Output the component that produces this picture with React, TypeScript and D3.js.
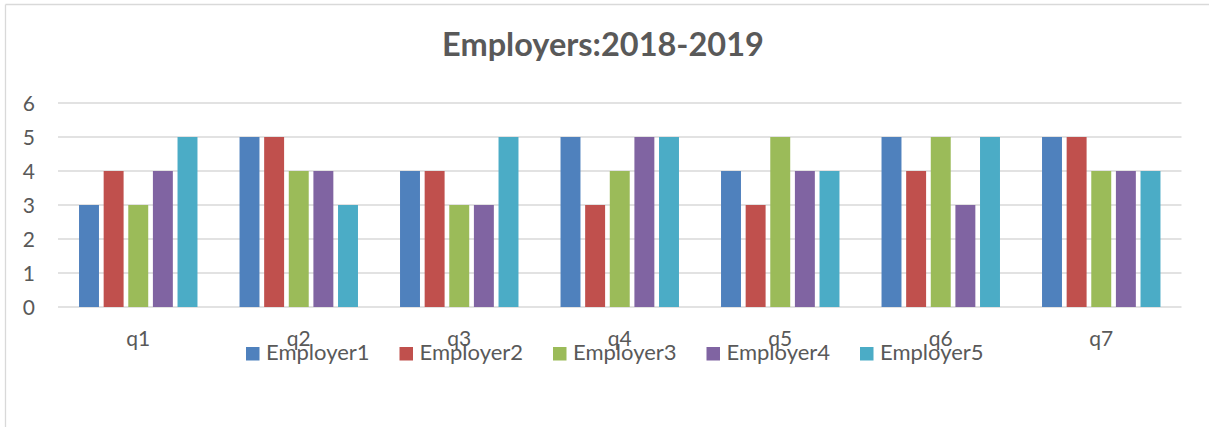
import React, { useEffect, useRef } from "react";
import * as d3 from "d3";

const categories = ["q1", "q2", "q3", "q4", "q5", "q6", "q7"];
const seriesNames = ["Employer1", "Employer2", "Employer3", "Employer4", "Employer5"];
const employer1 = [3, 5, 4, 5, 4, 5, 5];
const employer2 = [4, 5, 4, 3, 3, 4, 5];
const employer3 = [3, 4, 3, 4, 5, 5, 4];
const employer4 = [4, 4, 3, 5, 4, 3, 4];
const employer5 = [5, 3, 5, 5, 4, 5, 4];
const yTicks = [0, 1, 2, 3, 4, 5, 6];
const colors = ["#4F81BD", "#C0504D", "#9BBB59", "#8064A2", "#4BACC6"];

const W = 1209;
const H = 427;
const FONT = "Lato, 'Noto Sans', sans-serif";

export default function App() {
  const ref: any = useRef();

  useEffect(() => {
    const values = [employer1, employer2, employer3, employer4, employer5];
    const svg = d3.select(ref.current);
    svg.selectAll("*").remove();

    svg.append("rect").attr("width", W).attr("height", H).attr("fill", "#fff");
    // chart frame (only top and left visible)
    svg.append("line").attr("x1", 5.5).attr("x2", W).attr("y1", 4.5).attr("y2", 4.5)
      .attr("stroke", "#d9d9d9").attr("stroke-width", 1.3);
    svg.append("line").attr("x1", 5.5).attr("x2", 5.5).attr("y1", 4.5).attr("y2", H)
      .attr("stroke", "#d9d9d9").attr("stroke-width", 1.3);

    const x0 = d3.scaleBand().domain(categories).range([58, 1181.5])
      .paddingInner(0.262).paddingOuter(0.131);
    const x1 = d3.scaleBand().domain(seriesNames).range([0, x0.bandwidth()]).paddingInner(0.19);
    const y = d3.scaleLinear().domain([0, 6]).range([307, 103]);

    // title
    svg.append("text").attr("x", 603).attr("y", 56).attr("text-anchor", "middle")
      .attr("font-family", FONT).attr("font-weight", "bold").attr("font-size", 32.5)
      .attr("fill", "#595959").text("Employers:2018-2019");

    // gridlines
    svg.append("g").selectAll("line").data(yTicks).join("line")
      .attr("x1", 58).attr("x2", 1181.5)
      .attr("y1", (d) => y(d)).attr("y2", (d) => y(d))
      .attr("stroke", "#d9d9d9").attr("stroke-width", 1.3);

    // y labels
    svg.append("g").selectAll("text").data(yTicks).join("text")
      .attr("x", 35).attr("y", (d) => y(d)).attr("dy", "0.36em")
      .attr("text-anchor", "end").attr("font-family", FONT).attr("font-size", 21)
      .attr("fill", "#595959").text((d) => d);

    // bars
    const groups = svg.append("g").selectAll("g").data(categories).join("g")
      .attr("transform", (c) => `translate(${x0(c)},0)`);
    groups.selectAll("rect")
      .data((c, i) => seriesNames.map((s, k) => ({ s, v: values[k][i], k })))
      .join("rect")
      .attr("x", (d: any) => x1(d.s))
      .attr("width", x1.bandwidth())
      .attr("y", (d: any) => y(d.v))
      .attr("height", (d: any) => y(0) - y(d.v))
      .attr("fill", (d: any) => colors[d.k]);

    // x labels
    svg.append("g").selectAll("text").data(categories).join("text")
      .attr("x", (c) => x0(c) + x0.bandwidth() / 2).attr("y", 346)
      .attr("text-anchor", "middle").attr("font-family", FONT).attr("font-size", 21)
      .attr("fill", "#595959").text((c) => c);

    // legend
    const legend = svg.append("g").selectAll("g").data(seriesNames).join("g")
      .attr("transform", (s, i) => `translate(${246 + i * 153.5},347)`);
    legend.append("rect").attr("width", 13.5).attr("height", 13.5)
      .attr("fill", (s, i) => colors[i]);
    legend.append("text").attr("x", 20).attr("y", 12.5)
      .attr("font-family", FONT).attr("font-size", 22)
      .attr("fill", "#595959").text((s) => s);
  }, []);

  return (
    <svg ref={ref} width={W} height={H}
      style={{ position: "absolute", left: 0, top: 0, display: "block" }} />
  );
}
